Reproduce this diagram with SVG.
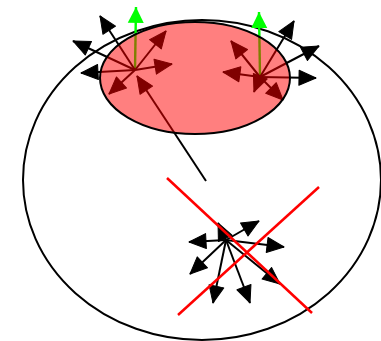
<svg xmlns="http://www.w3.org/2000/svg" width="381" height="341" viewBox="0 0 381 341">
<style>
.a{stroke:#000;stroke-width:2;fill:none;marker-end:url(#hb)}
.g{stroke:#00ff00;stroke-width:2.4;fill:none;marker-end:url(#hg)}
.x{stroke:#ff0000;stroke-width:2.5;fill:none}
</style>
<defs>
<marker id="hb" markerUnits="userSpaceOnUse" markerWidth="18" markerHeight="16" refX="17" refY="8" orient="auto" overflow="visible"><path d="M0,0.5 L17,8 L0,15.5 z" fill="#000" stroke="#000" stroke-width="1" stroke-linejoin="round"/></marker>
<marker id="hg" markerUnits="userSpaceOnUse" markerWidth="17" markerHeight="17" refX="16" refY="8.5" orient="auto" overflow="visible"><path d="M0,0.5 L16,8.5 L0,16.5 z" fill="#00ff00"/></marker>
</defs>
<rect width="381" height="341" fill="#fff"/>
<g id="outer"><ellipse cx="202" cy="180" rx="179" ry="160" fill="none" stroke="#000" stroke-width="2"/></g>
<g id="connectors">
<g id="star1">
<line class="g" x1="135" y1="70" x2="136" y2="7"/>
<line class="a" x1="135" y1="70" x2="100" y2="16"/>
<line class="a" x1="135" y1="70" x2="73" y2="41"/>
<line class="a" x1="135" y1="70" x2="81" y2="73"/>
<line class="a" x1="135" y1="70" x2="166" y2="31"/>
<line class="a" x1="135" y1="70" x2="172" y2="64"/>
<line class="a" x1="135" y1="70" x2="109" y2="94"/>
<line class="a" x1="206" y1="181" x2="137" y2="76"/>
</g>
<g id="star2">
<line class="g" x1="260" y1="77" x2="259" y2="12"/>
<line class="a" x1="260" y1="77" x2="294" y2="21"/>
<line class="a" x1="260" y1="77" x2="319" y2="46"/>
<line class="a" x1="260" y1="77" x2="316" y2="78"/>
<line class="a" x1="260" y1="77" x2="231" y2="41"/>
<line class="a" x1="260" y1="77" x2="223" y2="72"/>
<line class="a" x1="260" y1="77" x2="254" y2="92"/>
<line class="a" x1="260" y1="77" x2="283" y2="100"/>
</g>
</g>
<g id="region"><ellipse cx="195" cy="78" rx="95" ry="56" fill="#ff0000" fill-opacity="0.5" stroke="#000" stroke-width="2"/></g>
<g id="star3">
<line class="a" x1="226" y1="240" x2="218" y2="223"/>
<line class="a" x1="226" y1="240" x2="259" y2="221"/>
<line class="a" x1="226" y1="240" x2="189" y2="242"/>
<line class="a" x1="226" y1="240" x2="284" y2="247"/>
<line class="a" x1="226" y1="240" x2="190" y2="274"/>
<line class="a" x1="226" y1="240" x2="280" y2="284"/>
<line class="a" x1="226" y1="240" x2="213" y2="303"/>
<line class="a" x1="226" y1="240" x2="250" y2="303"/>
</g>
<g id="cross">
<line class="x" x1="167" y1="178" x2="312" y2="313"/>
<line class="x" x1="319" y1="187" x2="178" y2="315"/>
</g>
</svg>
